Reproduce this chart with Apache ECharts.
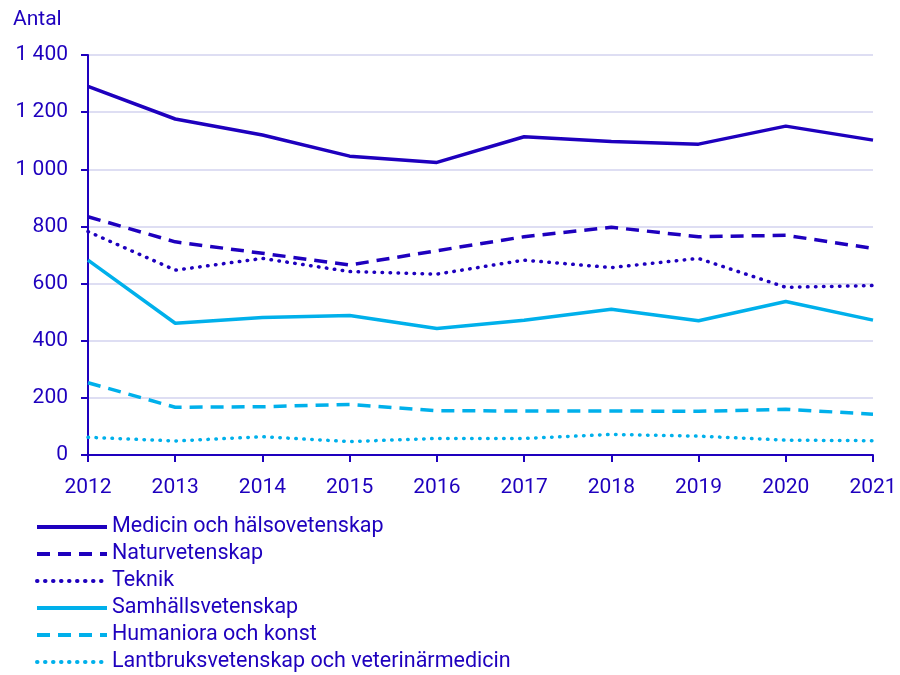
<!DOCTYPE html>
<html>
<head>
<meta charset="utf-8">
<script src="https://cdn.jsdelivr.net/npm/echarts@6/dist/echarts.min.js"></script>
<style>
  html, body { margin: 0; padding: 0; background: #fff; }
  #main { width: 900px; height: 675px; }
</style>
</head>
<body>
<div id="main"></div>
<script>
const years = ['2012', '2013', '2014', '2015', '2016', '2017', '2018', '2019', '2020', '2021'];

const medicin = [1290, 1176, 1120, 1046, 1024, 1114, 1097, 1088, 1151, 1102];
const naturvetenskap = [834, 746, 706, 665, 715, 764, 797, 764, 769, 723];
const teknik = [782, 647, 688, 642, 633, 682, 656, 688, 587, 593];
const samhall = [682, 461, 481, 488, 443, 472, 510, 470, 537, 472];
const humaniora = [253, 167, 169, 177, 155, 154, 154, 153, 160, 143];
const lantbruk = [62, 49, 64, 47, 58, 58, 72, 66, 52, 50];

const dark = '#1e00be';
const light = '#00b0eb';
const textColor = '#1e00be';

const chart = echarts.init(document.getElementById('main'));

function line(name, data, color, type) {
  let lineType = 'solid';
  let cap = 'butt';
  if (type === 'dashed') lineType = [13, 8];
  if (type === 'dotted') { lineType = [0.5, 7.5]; cap = 'round'; }
  return {
    name: name,
    type: 'line',
    data: data,
    symbol: 'none',
    animation: false,
    lineStyle: { color: color, width: 3.5, type: lineType, cap: cap },
    itemStyle: { color: color }
  };
}

chart.setOption({
  textStyle: { fontFamily: 'Roboto', color: textColor },
  graphic: [{
    type: 'text', left: 13, top: 9,
    style: { text: 'Antal', font: '21px Roboto', fill: textColor }
  }],
  legend: {
    orient: 'vertical',
    left: 35,
    top: 516,
    padding: 0,
    itemWidth: 70,
    itemHeight: 14,
    itemGap: 5,
    itemStyle: { opacity: 0 },
    lineStyle: { width: 4 },
    textStyle: { fontSize: 21.5, color: textColor },
    data: ['Medicin och hälsovetenskap', 'Naturvetenskap', 'Teknik', 'Samhällsvetenskap', 'Humaniora och konst', 'Lantbruksvetenskap och veterinärmedicin']
  },
  grid: { left: 88, right: 27, top: 55, bottom: 220, containLabel: false },
  xAxis: {
    type: 'category',
    data: years,
    boundaryGap: false,
    axisLine: { lineStyle: { color: dark, width: 2 } },
    axisTick: { alignWithLabel: true, length: 7, lineStyle: { color: dark, width: 2 } },
    axisLabel: { color: textColor, fontSize: 21, margin: 22 }
  },
  yAxis: {
    type: 'value',
    min: 0,
    max: 1400,
    interval: 200,
    axisLine: { show: true, lineStyle: { color: dark, width: 2 } },
    axisTick: { show: true, length: 7, lineStyle: { color: dark, width: 2 } },
    splitLine: { lineStyle: { color: '#d3d3ef', width: 1.5 } },
    axisLabel: {
      color: textColor, fontSize: 21, margin: 20,
      formatter: v => String(v).replace(/\B(?=(\d{3})+(?!\d))/g, ' ')
    }
  },
  series: [
    line('Medicin och hälsovetenskap', medicin, dark, 'solid'),
    line('Naturvetenskap', naturvetenskap, dark, 'dashed'),
    line('Teknik', teknik, dark, 'dotted'),
    line('Samhällsvetenskap', samhall, light, 'solid'),
    line('Humaniora och konst', humaniora, light, 'dashed'),
    line('Lantbruksvetenskap och veterinärmedicin', lantbruk, light, 'dotted')
  ]
});
</script>
</body>
</html>
